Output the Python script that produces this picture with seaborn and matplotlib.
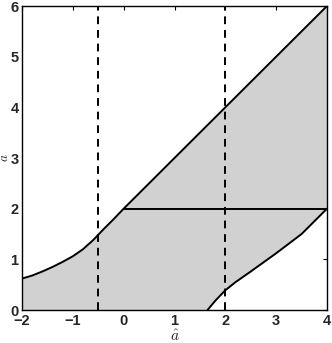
import numpy as np
import pandas as pd
import matplotlib
matplotlib.use("Agg")
import matplotlib.pyplot as plt
import seaborn as sns

# Upper boundary curve
upper_x = [-2.0, -1.8, -1.6, -1.4, -1.2, -1.0, -0.8, -0.6, -0.4, -0.2, 0.0, 4.0]
upper_y = [0.62, 0.68, 0.76, 0.85, 0.95, 1.06, 1.20, 1.38, 1.59, 1.79, 2.0, 6.0]
# Lower boundary curve
lower_x = [1.65, 1.8, 2.0, 2.2, 2.5, 3.0, 3.5, 4.0]
lower_y = [0.0, 0.18, 0.39, 0.55, 0.76, 1.12, 1.50, 2.0]
# Horizontal segment
hline_x = [0.0, 4.0]
hline_y = [2.0, 2.0]
# Dashed vertical lines
vlines_x = [-0.5, 2.0]

xticks = [-2, -1, 0, 1, 2, 3, 4]
yticks = [0, 1, 2, 3, 4, 5, 6]

sns.set_style("white")
plt.rcParams['font.family'] = ['Liberation Sans', 'DejaVu Sans']
plt.rcParams['mathtext.fontset'] = 'cm'

fig = plt.figure(figsize=(3.32, 3.43), dpi=100)
ax = fig.add_axes([22/332, 33/343, 305/332, 304/343])

# shaded region
xs = np.linspace(-2, 4, 601)
top = np.interp(xs, upper_x, upper_y)
bot = np.interp(xs, lower_x, lower_y, left=0.0)
ax.fill_between(xs, bot, top, color="#d1d1d1", linewidth=0, zorder=1)

up = pd.DataFrame({"x": upper_x, "y": upper_y})
lo = pd.DataFrame({"x": lower_x, "y": lower_y})
hl = pd.DataFrame({"x": hline_x, "y": hline_y})
sns.lineplot(data=up, x="x", y="y", ax=ax, color="black", lw=1.4, sort=False, zorder=3)
sns.lineplot(data=lo, x="x", y="y", ax=ax, color="black", lw=1.4, sort=False, zorder=3)
sns.lineplot(data=hl, x="x", y="y", ax=ax, color="black", lw=1.4, sort=False, zorder=3)
for vx in vlines_x:
    ax.axvline(vx, color="black", lw=1.4, ls=(0, (4, 3)), zorder=2)

ax.set_xlim(-2, 4)
ax.set_ylim(0, 6)
ax.set_xticks(xticks)
ax.set_yticks(yticks)
ax.set_xticklabels(["\u22122", "\u22121", "0", "1", "2", "3", "4"], fontweight="bold", fontsize=10.5)
ax.set_yticklabels([str(t) for t in yticks], fontweight="bold", fontsize=10.5)
ax.tick_params(axis="x", direction="in", length=3, width=0.8, top=True, pad=3, color="black")
ax.tick_params(axis="y", direction="in", length=3, width=0.8, right=True, pad=2.5, color="black")
for s in ax.spines.values():
    s.set_color("black")
    s.set_linewidth(1.0)
ax.set_xlabel(r"$\hat{a}$", fontsize=11, labelpad=0)
ax.set_ylabel(r"$a$", fontsize=9.5, labelpad=0)
ax.yaxis.set_label_coords(-0.037, 0.5)

fig.savefig("out.png", dpi=100)
